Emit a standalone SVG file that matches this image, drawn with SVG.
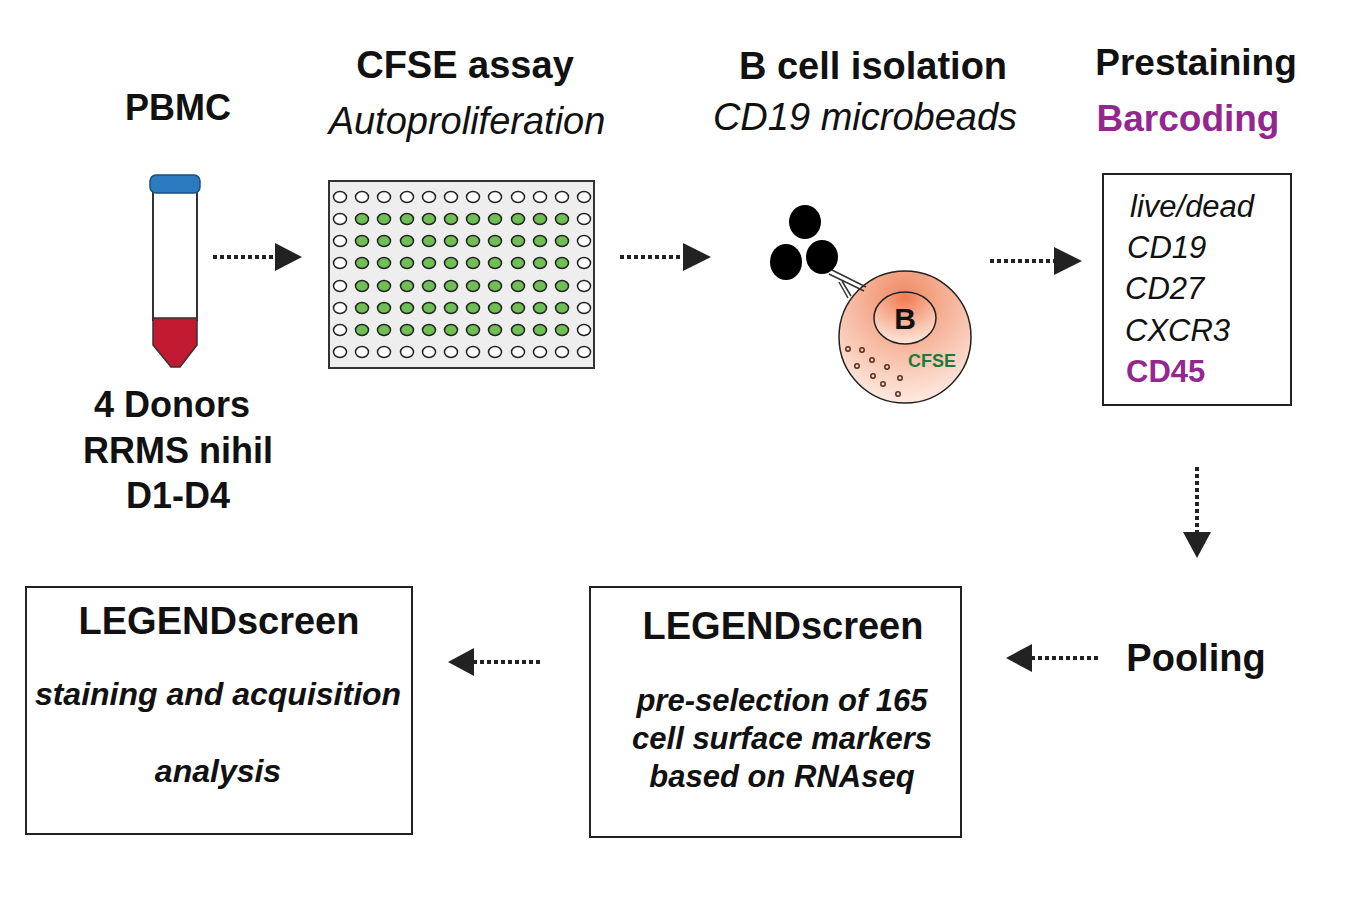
<svg xmlns="http://www.w3.org/2000/svg" width="1348" height="908" viewBox="0 0 1348 908">
<defs>
<style>
.t{font-family:"Liberation Sans",Arial,sans-serif;fill:#111}
.b{font-weight:bold}
.i{font-style:italic}
.box{fill:#fff;stroke:#222;stroke-width:2}
.dl{stroke:#222;stroke-width:4;stroke-dasharray:4,3;fill:none}
.ah{fill:#222}
.we{fill:#fff;stroke:#222;stroke-width:1.5}
.ge{fill:#6fbf55;stroke:#222;stroke-width:1.5}
</style>
<radialGradient id="cg" cx="0.5" cy="0.2" r="0.9">
<stop offset="0" stop-color="#f08a64"/><stop offset="1" stop-color="#fff6f0"/>
</radialGradient>
<radialGradient id="ng" cx="0.5" cy="0.1" r="0.9">
<stop offset="0" stop-color="#f07a50"/><stop offset="1" stop-color="#fde8dc"/>
</radialGradient>
</defs>
<rect width="1348" height="908" fill="#fff"/>

<g id="pbmc">
<text class="t b" x="178" y="120" font-size="36" text-anchor="middle">PBMC</text>
<rect x="153" y="190" width="44" height="130" fill="#fff" stroke="#333" stroke-width="2"/>
<path d="M153 318 H197 V345 L180 367 H171 L153 345 Z" fill="#c21a30" stroke="#333" stroke-width="1.5"/>
<rect x="150" y="175" width="50" height="18" rx="6" fill="#2c7bc0" stroke="#1a4f80" stroke-width="1.5"/>
<text class="t b" x="172" y="417" font-size="36" text-anchor="middle">4 Donors</text>
<text class="t b" x="178" y="463" font-size="36" text-anchor="middle">RRMS nihil</text>
<text class="t b" x="178" y="508" font-size="36" text-anchor="middle">D1-D4</text>
</g>

<g id="cfse">
<text class="t b" x="465" y="78" font-size="38" text-anchor="middle">CFSE assay</text>
<text class="t i" x="467" y="134" font-size="38" text-anchor="middle">Autoproliferation</text>
<rect x="329" y="181" width="265" height="187" fill="#eeeeee" stroke="#333" stroke-width="2"/>
</g>

<g id="bcell">
<text class="t b" x="873" y="79" font-size="38" text-anchor="middle">B cell isolation</text>
<text class="t i" x="865" y="130" font-size="38" text-anchor="middle">CD19 microbeads</text>
<circle cx="905" cy="337" r="66" fill="url(#cg)" stroke="#222" stroke-width="1.5"/>
<ellipse cx="905" cy="318" rx="31" ry="26" fill="url(#ng)" stroke="#222" stroke-width="1.5"/>
<text class="t b" x="905" y="329" font-size="30" text-anchor="middle">B</text>
<text class="t b" x="932" y="367" font-size="18" text-anchor="middle" style="fill:#1e7a3a">CFSE</text>
<g fill="none" stroke="#5a2a1a" stroke-width="1.5">
<circle cx="848" cy="349" r="2.2"/><circle cx="862" cy="350" r="2.2"/><circle cx="872" cy="360" r="2.2"/>
<circle cx="857" cy="366" r="2.2"/><circle cx="887" cy="367" r="2.2"/><circle cx="873" cy="376" r="2.2"/>
<circle cx="900" cy="378" r="2.2"/><circle cx="883" cy="384" r="2.2"/><circle cx="898" cy="394" r="2.2"/>
</g>
<path d="M832 270 L866 287 M829 274 L864 291 M839 282 L848 298 M842 281 L851 296" stroke="#333" stroke-width="1.5"/>
<ellipse cx="805" cy="222" rx="16" ry="17" fill="#000"/>
<ellipse cx="786" cy="262" rx="16" ry="18" fill="#000"/>
<ellipse cx="822" cy="257" rx="16" ry="17" fill="#000"/>
</g>

<g id="prestain">
<text class="t b" x="1196" y="75" font-size="37" text-anchor="middle">Prestaining</text>
<text class="t b" x="1188" y="131" font-size="37" text-anchor="middle" style="fill:#93278f">Barcoding</text>
<rect class="box" x="1103" y="174" width="188" height="231"/>
<text class="t i" x="1130" y="217" font-size="31">live/dead</text>
<text class="t i" x="1127" y="258" font-size="31">CD19</text>
<text class="t i" x="1125" y="299" font-size="31">CD27</text>
<text class="t i" x="1125" y="341" font-size="31">CXCR3</text>
<text class="t b" x="1126" y="382" font-size="31" style="fill:#93278f">CD45</text>
</g>

<g id="pooling">
<text class="t b" x="1196" y="671" font-size="38" text-anchor="middle">Pooling</text>
</g>

<g id="legend2">
<rect class="box" x="590" y="587" width="371" height="250"/>
<text class="t b" x="783" y="639" font-size="38" text-anchor="middle">LEGENDscreen</text>
<text class="t b i" x="782" y="711" font-size="31" text-anchor="middle">pre-selection of 165</text>
<text class="t b i" x="782" y="749" font-size="31" text-anchor="middle">cell surface markers</text>
<text class="t b i" x="782" y="787" font-size="31" text-anchor="middle">based on RNAseq</text>
</g>

<g id="legend1">
<rect class="box" x="26" y="587" width="386" height="247"/>
<text class="t b" x="219" y="634" font-size="38" text-anchor="middle">LEGENDscreen</text>
<text class="t b i" x="218" y="705" font-size="32" text-anchor="middle">staining and acquisition</text>
<text class="t b i" x="218" y="782" font-size="32" text-anchor="middle">analysis</text>
</g>

<g id="connectors">
<line class="dl" x1="213" y1="257" x2="275" y2="257"/><path class="ah" d="M275 243 L302 257 L275 271 Z"/>
<line class="dl" x1="620" y1="257" x2="683" y2="257"/><path class="ah" d="M683 243 L711 257 L683 271 Z"/>
<line class="dl" x1="990" y1="261" x2="1054" y2="261"/><path class="ah" d="M1054 247 L1082 261 L1054 275 Z"/>
<line class="dl" x1="1197" y1="467" x2="1197" y2="532"/><path class="ah" d="M1183 532 L1197 558 L1211 532 Z"/>
<line class="dl" x1="1098" y1="658" x2="1032" y2="658"/><path class="ah" d="M1032 644 L1006 658 L1032 672 Z"/>
<line class="dl" x1="540" y1="662" x2="474" y2="662"/><path class="ah" d="M474 648 L448 662 L474 676 Z"/>
</g>

<g id="plate-wells">
<g id="r0">
<ellipse class="we" cx="340" cy="197" rx="6.5" ry="5.5"/><ellipse class="we" cx="362" cy="197" rx="6.5" ry="5.5"/><ellipse class="we" cx="384" cy="197" rx="6.5" ry="5.5"/><ellipse class="we" cx="407" cy="197" rx="6.5" ry="5.5"/><ellipse class="we" cx="429" cy="197" rx="6.5" ry="5.5"/><ellipse class="we" cx="451" cy="197" rx="6.5" ry="5.5"/><ellipse class="we" cx="473" cy="197" rx="6.5" ry="5.5"/><ellipse class="we" cx="495" cy="197" rx="6.5" ry="5.5"/><ellipse class="we" cx="518" cy="197" rx="6.5" ry="5.5"/><ellipse class="we" cx="540" cy="197" rx="6.5" ry="5.5"/><ellipse class="we" cx="562" cy="197" rx="6.5" ry="5.5"/><ellipse class="we" cx="584" cy="197" rx="6.5" ry="5.5"/>
</g>
<g id="rows-mid">
<g transform="translate(0,219)"><ellipse class="we" cx="340" cy="0" rx="6.5" ry="5.5"/><ellipse class="ge" cx="362" cy="0" rx="6.5" ry="5.5"/><ellipse class="ge" cx="384" cy="0" rx="6.5" ry="5.5"/><ellipse class="ge" cx="407" cy="0" rx="6.5" ry="5.5"/><ellipse class="ge" cx="429" cy="0" rx="6.5" ry="5.5"/><ellipse class="ge" cx="451" cy="0" rx="6.5" ry="5.5"/><ellipse class="ge" cx="473" cy="0" rx="6.5" ry="5.5"/><ellipse class="ge" cx="495" cy="0" rx="6.5" ry="5.5"/><ellipse class="ge" cx="518" cy="0" rx="6.5" ry="5.5"/><ellipse class="ge" cx="540" cy="0" rx="6.5" ry="5.5"/><ellipse class="ge" cx="562" cy="0" rx="6.5" ry="5.5"/><ellipse class="we" cx="584" cy="0" rx="6.5" ry="5.5"/></g>
<g transform="translate(0,241)"><ellipse class="we" cx="340" cy="0" rx="6.5" ry="5.5"/><ellipse class="ge" cx="362" cy="0" rx="6.5" ry="5.5"/><ellipse class="ge" cx="384" cy="0" rx="6.5" ry="5.5"/><ellipse class="ge" cx="407" cy="0" rx="6.5" ry="5.5"/><ellipse class="ge" cx="429" cy="0" rx="6.5" ry="5.5"/><ellipse class="ge" cx="451" cy="0" rx="6.5" ry="5.5"/><ellipse class="ge" cx="473" cy="0" rx="6.5" ry="5.5"/><ellipse class="ge" cx="495" cy="0" rx="6.5" ry="5.5"/><ellipse class="ge" cx="518" cy="0" rx="6.5" ry="5.5"/><ellipse class="ge" cx="540" cy="0" rx="6.5" ry="5.5"/><ellipse class="ge" cx="562" cy="0" rx="6.5" ry="5.5"/><ellipse class="we" cx="584" cy="0" rx="6.5" ry="5.5"/></g>
<g transform="translate(0,263)"><ellipse class="we" cx="340" cy="0" rx="6.5" ry="5.5"/><ellipse class="ge" cx="362" cy="0" rx="6.5" ry="5.5"/><ellipse class="ge" cx="384" cy="0" rx="6.5" ry="5.5"/><ellipse class="ge" cx="407" cy="0" rx="6.5" ry="5.5"/><ellipse class="ge" cx="429" cy="0" rx="6.5" ry="5.5"/><ellipse class="ge" cx="451" cy="0" rx="6.5" ry="5.5"/><ellipse class="ge" cx="473" cy="0" rx="6.5" ry="5.5"/><ellipse class="ge" cx="495" cy="0" rx="6.5" ry="5.5"/><ellipse class="ge" cx="518" cy="0" rx="6.5" ry="5.5"/><ellipse class="ge" cx="540" cy="0" rx="6.5" ry="5.5"/><ellipse class="ge" cx="562" cy="0" rx="6.5" ry="5.5"/><ellipse class="we" cx="584" cy="0" rx="6.5" ry="5.5"/></g>
<g transform="translate(0,286)"><ellipse class="we" cx="340" cy="0" rx="6.5" ry="5.5"/><ellipse class="ge" cx="362" cy="0" rx="6.5" ry="5.5"/><ellipse class="ge" cx="384" cy="0" rx="6.5" ry="5.5"/><ellipse class="ge" cx="407" cy="0" rx="6.5" ry="5.5"/><ellipse class="ge" cx="429" cy="0" rx="6.5" ry="5.5"/><ellipse class="ge" cx="451" cy="0" rx="6.5" ry="5.5"/><ellipse class="ge" cx="473" cy="0" rx="6.5" ry="5.5"/><ellipse class="ge" cx="495" cy="0" rx="6.5" ry="5.5"/><ellipse class="ge" cx="518" cy="0" rx="6.5" ry="5.5"/><ellipse class="ge" cx="540" cy="0" rx="6.5" ry="5.5"/><ellipse class="ge" cx="562" cy="0" rx="6.5" ry="5.5"/><ellipse class="we" cx="584" cy="0" rx="6.5" ry="5.5"/></g>
<g transform="translate(0,308)"><ellipse class="we" cx="340" cy="0" rx="6.5" ry="5.5"/><ellipse class="ge" cx="362" cy="0" rx="6.5" ry="5.5"/><ellipse class="ge" cx="384" cy="0" rx="6.5" ry="5.5"/><ellipse class="ge" cx="407" cy="0" rx="6.5" ry="5.5"/><ellipse class="ge" cx="429" cy="0" rx="6.5" ry="5.5"/><ellipse class="ge" cx="451" cy="0" rx="6.5" ry="5.5"/><ellipse class="ge" cx="473" cy="0" rx="6.5" ry="5.5"/><ellipse class="ge" cx="495" cy="0" rx="6.5" ry="5.5"/><ellipse class="ge" cx="518" cy="0" rx="6.5" ry="5.5"/><ellipse class="ge" cx="540" cy="0" rx="6.5" ry="5.5"/><ellipse class="ge" cx="562" cy="0" rx="6.5" ry="5.5"/><ellipse class="we" cx="584" cy="0" rx="6.5" ry="5.5"/></g>
<g transform="translate(0,330)"><ellipse class="we" cx="340" cy="0" rx="6.5" ry="5.5"/><ellipse class="ge" cx="362" cy="0" rx="6.5" ry="5.5"/><ellipse class="ge" cx="384" cy="0" rx="6.5" ry="5.5"/><ellipse class="ge" cx="407" cy="0" rx="6.5" ry="5.5"/><ellipse class="ge" cx="429" cy="0" rx="6.5" ry="5.5"/><ellipse class="ge" cx="451" cy="0" rx="6.5" ry="5.5"/><ellipse class="ge" cx="473" cy="0" rx="6.5" ry="5.5"/><ellipse class="ge" cx="495" cy="0" rx="6.5" ry="5.5"/><ellipse class="ge" cx="518" cy="0" rx="6.5" ry="5.5"/><ellipse class="ge" cx="540" cy="0" rx="6.5" ry="5.5"/><ellipse class="ge" cx="562" cy="0" rx="6.5" ry="5.5"/><ellipse class="we" cx="584" cy="0" rx="6.5" ry="5.5"/></g>
</g>
<g id="r7">
<ellipse class="we" cx="340" cy="352" rx="6.5" ry="5.5"/><ellipse class="we" cx="362" cy="352" rx="6.5" ry="5.5"/><ellipse class="we" cx="384" cy="352" rx="6.5" ry="5.5"/><ellipse class="we" cx="407" cy="352" rx="6.5" ry="5.5"/><ellipse class="we" cx="429" cy="352" rx="6.5" ry="5.5"/><ellipse class="we" cx="451" cy="352" rx="6.5" ry="5.5"/><ellipse class="we" cx="473" cy="352" rx="6.5" ry="5.5"/><ellipse class="we" cx="495" cy="352" rx="6.5" ry="5.5"/><ellipse class="we" cx="518" cy="352" rx="6.5" ry="5.5"/><ellipse class="we" cx="540" cy="352" rx="6.5" ry="5.5"/><ellipse class="we" cx="562" cy="352" rx="6.5" ry="5.5"/><ellipse class="we" cx="584" cy="352" rx="6.5" ry="5.5"/>
</g>
</g>
</svg>
